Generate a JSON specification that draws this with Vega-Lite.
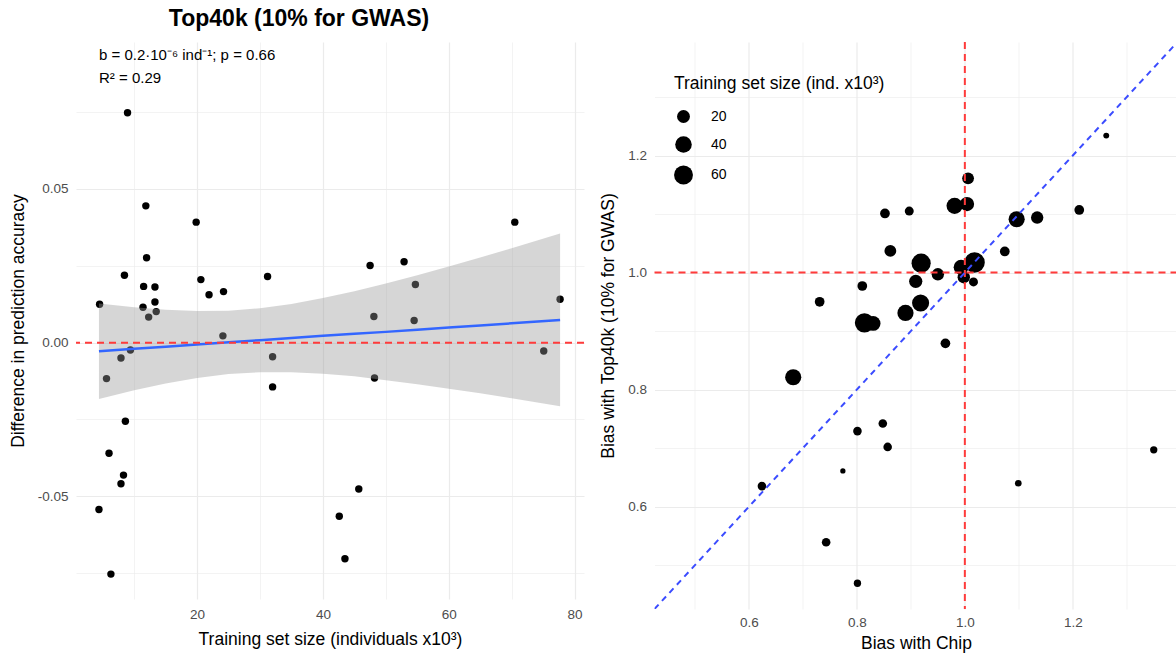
{
  "$schema": "https://vega.github.io/schema/vega-lite/v6.json",
  "background": "white",
  "padding": {"left": 9, "top": 8, "right": 0, "bottom": 5},
  "bounds": "flush",
  "spacing": 70.5,
  "config": {
    "font": "Liberation Sans",
    "view": {"stroke": null},
    "axis": {
      "domain": false,
      "ticks": false,
      "gridColor": "#EBEBEB",
      "labelColor": "#4D4D4D",
      "labelFontSize": 13.5,
      "labelFont": "Liberation Sans",
      "titleFont": "Liberation Sans",
      "titleFontSize": 17.5,
      "titleFontWeight": "normal",
      "titleColor": "black",
      "labelPadding": 8,
      "titlePadding": 10,
      "labelOverlap": false,
      "labelFlush": false
    }
  },
  "datasets": {
    "acc": [
      {"size": 4.5, "diff": 0.0125}, {"size": 4.4, "diff": -0.0543}, {"size": 5.6, "diff": -0.0117},
      {"size": 6.0, "diff": -0.036}, {"size": 6.3, "diff": -0.0753}, {"size": 7.9, "diff": -0.005},
      {"size": 7.9, "diff": -0.0459}, {"size": 8.3, "diff": -0.0431}, {"size": 8.45, "diff": 0.0219},
      {"size": 8.6, "diff": -0.0256}, {"size": 8.94, "diff": 0.0748}, {"size": 9.4, "diff": -0.0024},
      {"size": 11.4, "diff": 0.0115}, {"size": 11.5, "diff": 0.0183}, {"size": 11.85, "diff": 0.0445},
      {"size": 11.97, "diff": 0.0276}, {"size": 12.3, "diff": 0.0083}, {"size": 13.3, "diff": 0.0181},
      {"size": 13.3, "diff": 0.0132}, {"size": 13.5, "diff": 0.0101}, {"size": 19.85, "diff": 0.0392},
      {"size": 20.6, "diff": 0.0205}, {"size": 21.9, "diff": 0.0156}, {"size": 24.1, "diff": 0.0022},
      {"size": 24.2, "diff": 0.0166}, {"size": 31.2, "diff": 0.0215}, {"size": 32.0, "diff": -0.0046},
      {"size": 32.0, "diff": -0.0144}, {"size": 42.6, "diff": -0.0565}, {"size": 43.5, "diff": -0.0703},
      {"size": 45.7, "diff": -0.0476}, {"size": 47.5, "diff": 0.0251}, {"size": 48.1, "diff": 0.0085},
      {"size": 48.2, "diff": -0.0115}, {"size": 52.9, "diff": 0.0263}, {"size": 54.5, "diff": 0.0072},
      {"size": 54.7, "diff": 0.0189}, {"size": 70.5, "diff": 0.0392}, {"size": 75.1, "diff": -0.0027},
      {"size": 77.7, "diff": 0.0141}
    ],
    "band": [
      {"size": 4.4, "fit": -0.0028, "lo": -0.0183, "hi": 0.0127},
      {"size": 10, "fit": -0.002, "lo": -0.0155, "hi": 0.0115},
      {"size": 15, "fit": -0.0013, "lo": -0.0133, "hi": 0.0107},
      {"size": 20, "fit": -0.0006, "lo": -0.0115, "hi": 0.0103},
      {"size": 25, "fit": 0.0001, "lo": -0.0102, "hi": 0.0104},
      {"size": 30, "fit": 0.0008, "lo": -0.0096, "hi": 0.0112},
      {"size": 35, "fit": 0.0015, "lo": -0.0096, "hi": 0.0126},
      {"size": 40, "fit": 0.0022, "lo": -0.0101, "hi": 0.0145},
      {"size": 45, "fit": 0.0029, "lo": -0.0109, "hi": 0.0167},
      {"size": 50, "fit": 0.0035, "lo": -0.0122, "hi": 0.0192},
      {"size": 55, "fit": 0.0042, "lo": -0.0135, "hi": 0.0219},
      {"size": 60, "fit": 0.0049, "lo": -0.015, "hi": 0.0248},
      {"size": 65, "fit": 0.0056, "lo": -0.0165, "hi": 0.0277},
      {"size": 70, "fit": 0.0063, "lo": -0.0181, "hi": 0.0307},
      {"size": 77.7, "fit": 0.0074, "lo": -0.0207, "hi": 0.0355}
    ],
    "bias": [
      {"chip": 1.006, "top": 1.161, "n": 16}, {"chip": 0.981, "top": 1.114, "n": 37},
      {"chip": 1.004, "top": 1.117, "n": 26}, {"chip": 0.852, "top": 1.101, "n": 10.5},
      {"chip": 0.897, "top": 1.105, "n": 9}, {"chip": 1.096, "top": 1.091, "n": 37},
      {"chip": 1.134, "top": 1.094, "n": 18}, {"chip": 0.862, "top": 1.037, "n": 16},
      {"chip": 1.074, "top": 1.036, "n": 10.5}, {"chip": 0.919, "top": 1.016, "n": 63},
      {"chip": 1.018, "top": 1.017, "n": 77.7}, {"chip": 0.993, "top": 1.009, "n": 29},
      {"chip": 0.95, "top": 0.997, "n": 18}, {"chip": 0.998, "top": 0.992, "n": 18},
      {"chip": 1.016, "top": 0.984, "n": 9}, {"chip": 0.909, "top": 0.985, "n": 21.5},
      {"chip": 0.81, "top": 0.977, "n": 10.5}, {"chip": 0.731, "top": 0.95, "n": 10.5},
      {"chip": 0.918, "top": 0.948, "n": 44}, {"chip": 0.89, "top": 0.931, "n": 37},
      {"chip": 0.814, "top": 0.914, "n": 63}, {"chip": 0.83, "top": 0.913, "n": 29},
      {"chip": 0.964, "top": 0.879, "n": 10.5}, {"chip": 0.682, "top": 0.821, "n": 37},
      {"chip": 0.848, "top": 0.742, "n": 8.3}, {"chip": 0.801, "top": 0.729, "n": 8.3},
      {"chip": 0.857, "top": 0.702, "n": 8.3}, {"chip": 0.774, "top": 0.661, "n": 4.4},
      {"chip": 0.624, "top": 0.635, "n": 8.3}, {"chip": 1.099, "top": 0.64, "n": 5.6},
      {"chip": 1.35, "top": 0.697, "n": 6.4}, {"chip": 0.743, "top": 0.539, "n": 8.3},
      {"chip": 0.801, "top": 0.469, "n": 6.4}, {"chip": 1.262, "top": 1.234, "n": 4.9},
      {"chip": 1.212, "top": 1.107, "n": 10.5}
    ]
  },
  "hconcat": [
    {
      "width": 508,
      "height": 557,
      "title": {"text": "Top40k (10% for GWAS)", "fontSize": 23, "fontWeight": "bold", "anchor": "middle", "dx": -31, "offset": 11, "color": "black", "font": "Liberation Sans"},
      "layer": [
        {
          "data": {"name": "acc"},
          "mark": {"type": "circle", "size": 55, "color": "black", "opacity": 1},
          "encoding": {
            "x": {"field": "size", "type": "quantitative",
              "scale": {"domain": [0.75, 81.5], "nice": false, "zero": false},
              "axis": {"title": "Training set size (individuals x10³)", "values": [10, 20, 30, 40, 50, 60, 70, 80],
                "labelExpr": "datum.value % 20 === 0 ? format(datum.value, 'd') : ''",
                "gridWidth": {"condition": {"test": "datum.value % 20 === 0", "value": 1.2}, "value": 0.6}}},
            "y": {"field": "diff", "type": "quantitative",
              "scale": {"domain": [-0.0834, 0.0978], "nice": false, "zero": false},
              "axis": {"title": "Difference in prediction accuracy", "values": [-0.075, -0.05, -0.025, 0, 0.025, 0.05, 0.075],
                "labelExpr": "round(datum.value*1000) % 50 === 0 ? replace(format(datum.value, '.2f'), '−', '-') : ''",
                "gridWidth": {"condition": {"test": "round(datum.value*1000) % 50 === 0", "value": 1.2}, "value": 0.6}}}
          }
        },
        {
          "data": {"name": "band"},
          "mark": {"type": "area", "color": "#999999", "opacity": 0.4},
          "encoding": {
            "x": {"field": "size", "type": "quantitative"},
            "y": {"field": "lo", "type": "quantitative"},
            "y2": {"field": "hi"}
          }
        },
        {
          "data": {"name": "band"},
          "mark": {"type": "line", "color": "#3366FF", "strokeWidth": 2.5},
          "encoding": {
            "x": {"field": "size", "type": "quantitative"},
            "y": {"field": "fit", "type": "quantitative"}
          }
        },
        {
          "data": {"values": [{}]},
          "mark": {"type": "rule", "color": "#FF3B3B", "strokeWidth": 2, "strokeDash": [7, 5]},
          "encoding": {"y": {"datum": 0}}
        },
        {
          "data": {"values": [{}]},
          "mark": {"type": "text", "align": "left", "baseline": "middle", "fontSize": 15, "color": "black"},
          "encoding": {"x": {"datum": 4.4}, "y": {"datum": 0.0937}, "text": {"value": "b = 0.2·10⁻⁶ ind⁻¹; p = 0.66"}}
        },
        {
          "data": {"values": [{}]},
          "mark": {"type": "text", "align": "left", "baseline": "middle", "fontSize": 15, "color": "black"},
          "encoding": {"x": {"datum": 4.4}, "y": {"datum": 0.0861}, "text": {"value": "R² = 0.29"}}
        }
      ]
    },
    {
      "width": 523,
      "height": 567,
      "layer": [
        {
          "data": {"name": "bias"},
          "mark": {"type": "circle", "color": "black", "opacity": 1, "clip": true},
          "encoding": {
            "x": {"field": "chip", "type": "quantitative",
              "scale": {"domain": [0.425, 1.394], "nice": false, "zero": false},
              "axis": {"title": "Bias with Chip", "labelPadding": 6, "titlePadding": 6, "values": [0.5, 0.6, 0.7, 0.8, 0.9, 1.0, 1.1, 1.2, 1.3],
                "labelExpr": "round(datum.value*10) % 2 === 0 ? format(datum.value, '.1f') : ''",
                "gridWidth": {"condition": {"test": "round(datum.value*10) % 2 === 0", "value": 1.2}, "value": 0.6}}},
            "y": {"field": "top", "type": "quantitative",
              "scale": {"domain": [0.425, 1.394], "nice": false, "zero": false},
              "axis": {"title": "Bias with Top40k (10% for GWAS)", "values": [0.5, 0.6, 0.7, 0.8, 0.9, 1.0, 1.1, 1.2, 1.3],
                "labelExpr": "round(datum.value*10) % 2 === 0 ? format(datum.value, '.1f') : ''",
                "gridWidth": {"condition": {"test": "round(datum.value*10) % 2 === 0", "value": 1.2}, "value": 0.6}}},
            "size": {"field": "n", "type": "quantitative",
              "scale": {"type": "sqrt", "domain": [4.4, 77.7], "range": [28, 420], "zero": false},
              "legend": {"title": "Training set size (ind. x10³)", "orient": "none", "legendX": 598, "legendY": 32.5,
                "values": [20, 40, 60], "titleFontSize": 17.5, "titleFontWeight": "normal", "titleColor": "black", "titleLimit": 500,
                "labelFontSize": 14, "labelColor": "black", "titlePadding": 17.5, "rowPadding": 12.5, "labelOffset": 18,
                "symbolFillColor": "black", "symbolStrokeWidth": 0, "symbolType": "circle", "titleFont": "Liberation Sans", "labelFont": "Liberation Sans"}}
          }
        },
        {
          "data": {"values": [{}]},
          "mark": {"type": "rule", "color": "#FF3B3B", "strokeWidth": 2, "strokeDash": [7, 5]},
          "encoding": {"x": {"datum": 1}}
        },
        {
          "data": {"values": [{}]},
          "mark": {"type": "rule", "color": "#FF3B3B", "strokeWidth": 2, "strokeDash": [7, 5]},
          "encoding": {"y": {"datum": 1}}
        },
        {
          "data": {"values": [{}]},
          "mark": {"type": "rule", "color": "#3B4CFF", "strokeWidth": 2, "strokeDash": [6, 5], "clip": true},
          "encoding": {"x": {"datum": 0.425}, "y": {"datum": 0.425}, "x2": {"datum": 1.394}, "y2": {"datum": 1.394}}
        }
      ]
    }
  ]
}
